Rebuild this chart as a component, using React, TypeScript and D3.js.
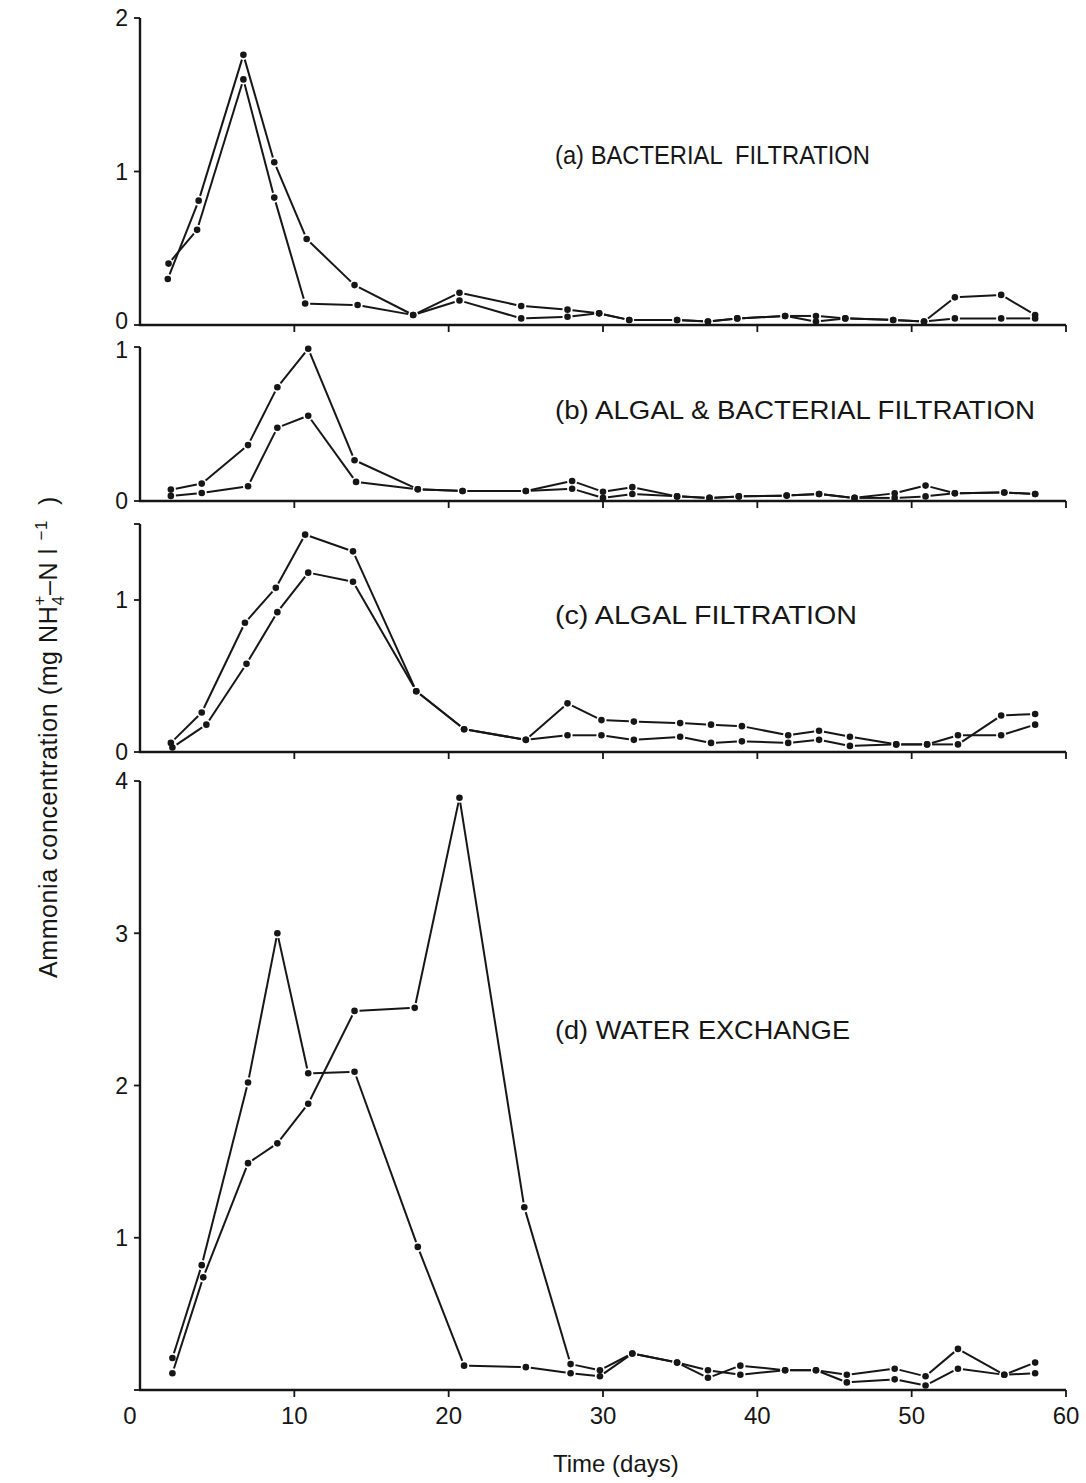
import React from 'react';
import * as d3 from 'd3';

// ---------- data (day, mg NH4-N per litre) ----------
const xTicks = [0, 10, 20, 30, 40, 50, 60];

const bactA1: [number, number][] = [[1.8,0.30],[3.8,0.81],[6.7,1.76],[8.7,1.06],[10.8,0.56],[13.9,0.26],[17.7,0.065],[20.7,0.21],[24.7,0.124],[27.7,0.10],[29.75,0.076],[31.7,0.033],[34.8,0.033],[36.8,0.022],[38.7,0.043],[41.8,0.059],[43.8,0.059],[45.7,0.043],[48.8,0.033],[50.8,0.022],[52.8,0.18],[55.8,0.196],[58.0,0.065]];
const bactA2: [number, number][] = [[1.85,0.40],[3.7,0.62],[6.7,1.60],[8.7,0.83],[10.7,0.14],[14.1,0.13],[17.7,0.065],[20.7,0.16],[24.7,0.043],[27.7,0.054],[29.75,0.076],[31.7,0.033],[34.8,0.033],[36.8,0.022],[38.7,0.043],[41.8,0.059],[43.8,0.022],[45.7,0.043],[48.8,0.033],[50.8,0.022],[52.8,0.043],[55.8,0.043],[58.0,0.043]];

const algBactB1: [number, number][] = [[2.0,0.074],[4.0,0.113],[7.0,0.363],[8.9,0.739],[10.9,0.989],[13.9,0.265],[18.0,0.076],[20.9,0.065],[25.0,0.065],[28.0,0.13],[30.0,0.06],[31.9,0.09],[34.8,0.03],[36.9,0.02],[38.8,0.03],[41.9,0.035],[44.0,0.045],[46.3,0.02],[48.9,0.05],[50.9,0.10],[52.8,0.05],[56.0,0.055],[58.0,0.045]];
const algBactB2: [number, number][] = [[2.0,0.033],[4.0,0.052],[7.0,0.096],[8.9,0.476],[10.9,0.554],[14.0,0.124],[18.0,0.076],[20.9,0.065],[25.0,0.065],[28.0,0.08],[30.0,0.02],[31.9,0.045],[34.8,0.03],[36.9,0.02],[38.8,0.03],[41.9,0.035],[44.0,0.045],[46.3,0.02],[48.9,0.02],[50.9,0.03],[52.8,0.05],[56.0,0.055],[58.0,0.045]];

const algC1: [number, number][] = [[2.0,0.06],[4.0,0.26],[6.8,0.85],[8.8,1.08],[10.7,1.43],[13.8,1.32],[17.9,0.40],[21.0,0.15],[25.0,0.08],[27.7,0.32],[29.9,0.21],[32.0,0.20],[35.0,0.19],[37.0,0.18],[39.0,0.17],[42.0,0.11],[44.0,0.14],[46.0,0.10],[49.0,0.05],[51.0,0.05],[53.0,0.05],[55.8,0.24],[58.0,0.25]];
const algC2: [number, number][] = [[2.1,0.03],[4.3,0.18],[6.9,0.58],[8.9,0.92],[10.9,1.18],[13.8,1.12],[17.9,0.40],[21.0,0.15],[25.0,0.08],[27.7,0.11],[29.9,0.11],[32.0,0.08],[35.0,0.10],[37.0,0.06],[39.0,0.07],[42.0,0.06],[44.0,0.08],[46.0,0.04],[49.0,0.05],[51.0,0.05],[53.0,0.11],[55.8,0.11],[58.0,0.18]];

const waterD1: [number, number][] = [[2.1,0.21],[4.0,0.82],[7.0,2.02],[8.9,3.00],[10.9,2.08],[13.9,2.09],[18.0,0.94],[21.0,0.16],[25.0,0.15],[27.9,0.11],[29.8,0.09],[31.9,0.24],[34.8,0.18],[36.8,0.13],[38.9,0.10],[41.8,0.13],[43.8,0.13],[45.8,0.10],[48.9,0.14],[50.9,0.09],[53.0,0.27],[56.0,0.10],[58.0,0.18]];
const waterD2: [number, number][] = [[2.1,0.11],[4.1,0.74],[7.0,1.49],[8.9,1.62],[10.9,1.88],[13.9,2.49],[17.8,2.51],[20.7,3.89],[24.9,1.20],[27.9,0.17],[29.8,0.13],[31.9,0.24],[34.8,0.18],[36.8,0.08],[38.9,0.16],[41.8,0.13],[43.8,0.13],[45.8,0.05],[48.9,0.07],[50.9,0.03],[53.0,0.14],[56.0,0.10],[58.0,0.11]];

const panelTitles = ['(a) BACTERIAL  FILTRATION', '(b) ALGAL & BACTERIAL FILTRATION', '(c) ALGAL FILTRATION', '(d) WATER EXCHANGE'];
const panelYMax = [2, 1, 1.5, 4];
const panelYTicks = [[0, 1, 2], [0, 1], [0, 1, 1.5], [0, 1, 2, 3, 4]];
const panelYLabels = [['0', '1', '2'], ['0', '1'], ['0', '1', ''], ['', '1', '2', '3', '4']];
const panelSeries = [[bactA1, bactA2], [algBactB1, algBactB2], [algC1, algC2], [waterD1, waterD2]];

// ---------- layout ----------
const W = 1086, H = 1483;
const X0 = 140, X1 = 1066;
const panelBox = [
  { top: 18, bottom: 325, titleY: 164, titleW: 315, zeroShift: -4, topShift: 0 },
  { top: 347, bottom: 501, titleY: 419, titleW: 480, zeroShift: 0, topShift: 3 },
  { top: 524, bottom: 752, titleY: 624, titleW: 302, zeroShift: 0, topShift: 0 },
  { top: 781, bottom: 1390, titleY: 1039, titleW: 295, zeroShift: 0, topShift: 0 },
];
const FONT = '"Liberation Sans", Arial, Helvetica, sans-serif';
const INK = '#161616';
const GAP = 5;

function Segments({ pts }: { pts: [number, number][] }) {
  const segs: JSX.Element[] = [];
  for (let i = 0; i < pts.length - 1; i++) {
    const [x1, y1] = pts[i];
    const [x2, y2] = pts[i + 1];
    const dx = x2 - x1, dy = y2 - y1;
    const len = Math.hypot(dx, dy);
    if (len <= 2 * GAP + 1) continue;
    const ux = dx / len, uy = dy / len;
    segs.push(
      <line key={i} x1={x1 + ux * GAP} y1={y1 + uy * GAP} x2={x2 - ux * GAP} y2={y2 - uy * GAP}
        stroke={INK} strokeWidth={2} strokeLinecap="butt" />
    );
  }
  return <g>{segs}</g>;
}

export default function App() {
  const x = d3.scaleLinear().domain([0, 60]).range([X0, X1]);
  return (
    <div style={{ position: 'absolute', left: 0, top: 0 }}>
      <svg width={W} height={H} viewBox={`0 0 ${W} ${H}`} style={{ display: 'block', background: '#fff' }}
        fontFamily={FONT}>
        <rect x={0} y={0} width={W} height={H} fill="#fff" />
        {panelBox.map((b, pi) => {
          const y = d3.scaleLinear().domain([0, panelYMax[pi]]).range([b.bottom, b.top]);
          return (
            <g key={pi}>
              {/* axes */}
              <line x1={X0} y1={b.top} x2={X0} y2={b.bottom + 1} stroke={INK} strokeWidth={2.4} />
              <line x1={X0 - 1} y1={b.bottom} x2={X1} y2={b.bottom} stroke={INK} strokeWidth={2.4} />
              {xTicks.filter(t => t > 0).map(t => (
                <line key={t} x1={x(t)} y1={b.bottom} x2={x(t)} y2={b.bottom + 7} stroke={INK} strokeWidth={1.8} />
              ))}
              {panelYTicks[pi].map((t, i) => {
                const shift = t === 0 ? b.zeroShift : (t === panelYMax[pi] ? b.topShift : 0);
                return (
                  <g key={t}>
                    <line x1={X0 - 6} y1={y(t)} x2={X0} y2={y(t)} stroke={INK} strokeWidth={1.8} />
                    {panelYLabels[pi][i] !== '' && (
                      <text x={X0 - 12} y={y(t) + shift} dy="0.36em" textAnchor="end"
                        fontSize={23} fill={INK}>
                        {panelYLabels[pi][i]}
                      </text>
                    )}
                  </g>
                );
              })}
              {/* title */}
              <text x={555} y={b.titleY} fontSize={25} fill={INK} style={{ whiteSpace: 'pre' }}
                textLength={b.titleW} lengthAdjust="spacingAndGlyphs">
                {panelTitles[pi]}
              </text>
              {/* series */}
              {panelSeries[pi].map((s, si) => {
                const pts = s.map(([d, v]) => [x(d), y(v)] as [number, number]);
                return (
                  <g key={si}>
                    <Segments pts={pts} />
                    {pts.map(([px, py], k) => (
                      <circle key={k} cx={px} cy={py} r={3.3} fill={INK} />
                    ))}
                  </g>
                );
              })}
            </g>
          );
        })}
        {/* x tick labels (bottom panel only) */}
        {xTicks.map(t => (
          <text key={t} x={t === 0 ? x(t) - 10 : x(t)} y={1424} textAnchor="middle" fontSize={24} fill={INK}>
            {String(t)}
          </text>
        ))}
        <text x={553} y={1472} textAnchor="start" fontSize={24} fill={INK}>Time (days)</text>
        {/* y axis title */}
        <text transform="translate(57,737) rotate(-90)" textAnchor="middle" fontSize={25} letterSpacing={0.6} fill={INK}
          style={{ whiteSpace: 'pre' }}>
          Ammonia concentration (mg NH
          <tspan dy={7} fontSize={17}>4</tspan>
          <tspan dx={-10} dy={-19} fontSize={17}>+</tspan>
          <tspan dy={12}>–N l </tspan>
          <tspan dy={-10} fontSize={17}>−1</tspan>
          <tspan dy={10}>  )</tspan>
        </text>
      </svg>
    </div>
  );
}
